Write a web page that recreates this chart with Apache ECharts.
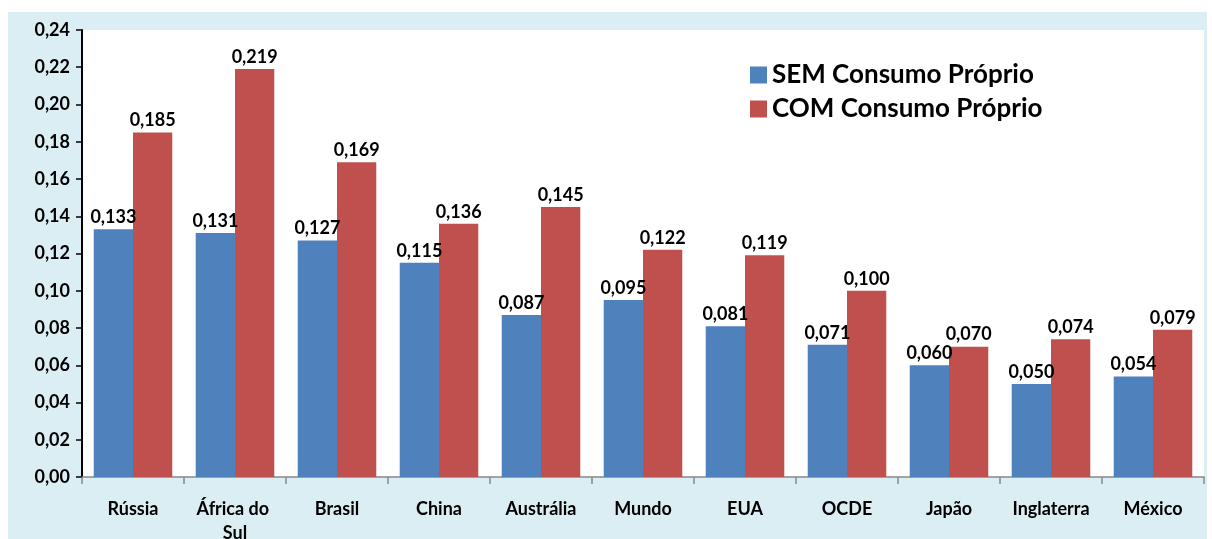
<!DOCTYPE html>
<html><head><meta charset="utf-8">
<script src="https://cdn.jsdelivr.net/npm/echarts@6/dist/echarts.min.js"></script>
<style>html,body{margin:0;padding:0;background:#fff}#c{width:1212px;height:539px}</style>
</head><body><div id="c"></div>
<script>
const categories = ['Rússia','África do Sul','Brasil','China','Austrália','Mundo','EUA','OCDE','Japão','Inglaterra','México'];
const semConsumo = [0.133,0.131,0.127,0.115,0.087,0.095,0.081,0.071,0.060,0.050,0.054];
const comConsumo = [0.185,0.219,0.169,0.136,0.145,0.122,0.119,0.100,0.070,0.074,0.079];
const seriesNames = ['SEM Consumo Próprio','COM Consumo Próprio'];

const font = 'Lato, "Open Sans", sans-serif';
const chart = echarts.init(document.getElementById('c'));
const fmt3 = v => v.toFixed(3).replace('.', ',');
chart.setOption({
  animation: false,
  graphic: [{type:'rect', z:-10, shape:{x:8,y:12,width:1199,height:540}, style:{fill:'#dbeef4'}},
            {type:'rect', z:-9, shape:{x:82,y:30,width:1122,height:447}, style:{fill:'#ffffff'}}],
  grid: {left:82, right:8, top:30, bottom:62, outerBoundsMode:'none', containLabel:false},
  legend: {
    orient:'vertical', left:745, top:57, itemWidth:17, itemHeight:17, itemGap:8, icon:'rect',
    textStyle:{fontFamily:font, fontWeight:'bold', fontSize:26, color:'#000'},
    data: seriesNames
  },
  xAxis: {
    type:'category', data:categories,
    axisLine:{lineStyle:{color:'#888', width:1.5}},
    axisTick:{show:true, length:7, lineStyle:{color:'#888', width:1.5}},
    axisLabel:{interval:0, fontFamily:font, fontWeight:'bold', fontSize:18, color:'#000', margin:20, width:95, overflow:'break', lineHeight:24}
  },
  yAxis: {
    type:'value', min:0, max:0.24, interval:0.02,
    axisLine:{show:true, lineStyle:{color:'#000', width:2}},
    axisTick:{show:true, inside:false, length:6, lineStyle:{color:'#000', width:1.5}},
    splitLine:{show:false},
    axisLabel:{fontFamily:font, fontWeight:'bold', fontSize:18, color:'#000', margin:12, formatter: v => v.toFixed(2).replace('.', ',')}
  },
  series: [
    {name:seriesNames[0], type:'bar', data:semConsumo, barGap:'0%', barCategoryGap:'23%',
     itemStyle:{color:'#4f81bd'},
     label:{show:true, position:'top', distance:3, fontFamily:font, fontWeight:'bold', fontSize:18, color:'#000', formatter:p=>fmt3(p.value)}},
    {name:seriesNames[1], type:'bar', data:comConsumo, barGap:'0%', barCategoryGap:'23%',
     itemStyle:{color:'#c0504d'},
     label:{show:true, position:'top', distance:3, fontFamily:font, fontWeight:'bold', fontSize:18, color:'#000', formatter:p=>fmt3(p.value)}}
  ]
});
</script></body></html>
